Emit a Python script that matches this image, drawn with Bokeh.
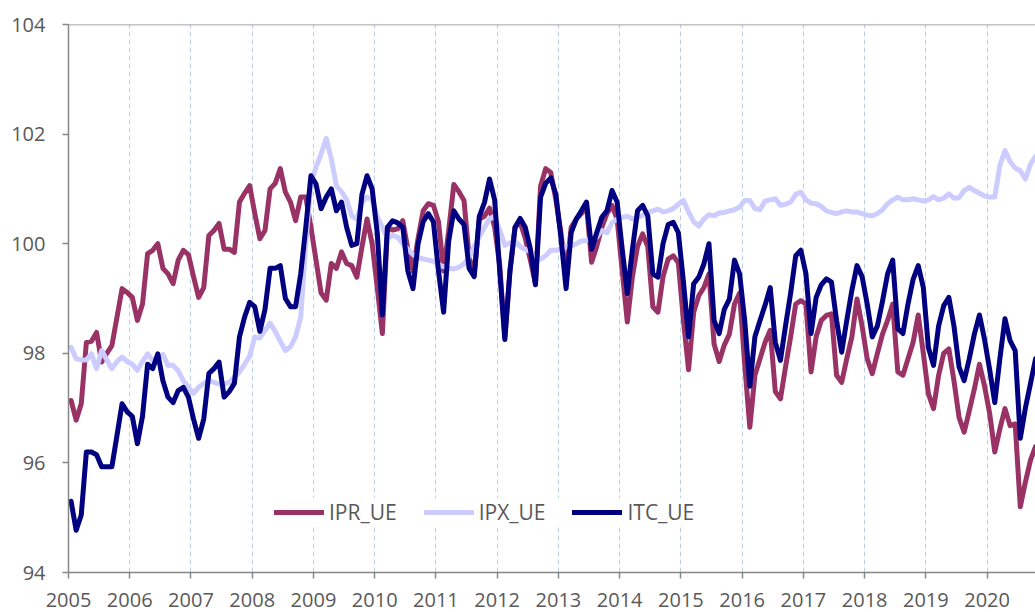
from bokeh.plotting import figure
from bokeh.models import FixedTicker, Legend, LegendItem, Span
from bokeh.embed import file_html
from bokeh.resources import INLINE

years = list(range(2005, 2021))
y_ticks = [94, 96, 98, 100, 102, 104]
start_year = 2005
series_names = ["IPR_UE", "IPX_UE", "ITC_UE"]

ipr_ue = [
    97.14, 96.78, 97.08, 98.20, 98.22, 98.38, 97.84, 98.00, 98.14, 98.66, 99.18, 99.11,
    99.02, 98.60, 98.90, 99.82, 99.88, 100.00, 99.55, 99.45, 99.27, 99.70, 99.88, 99.80,
    99.40, 99.02, 99.20, 100.15, 100.24, 100.37, 99.90, 99.90, 99.84, 100.76, 100.92, 101.06,
    100.55, 100.09, 100.24, 101.00, 101.10, 101.37, 100.94, 100.76, 100.42, 100.85, 100.85, 100.30,
    99.70, 99.10, 98.97, 99.64, 99.55, 99.85, 99.64, 99.60, 99.39, 99.94, 100.45, 100.00,
    99.20, 98.36, 100.30, 100.25, 100.27, 100.42, 99.90, 99.50, 100.10, 100.60, 100.73, 100.70,
    100.40, 99.50, 100.24, 101.08, 100.95, 100.79, 99.75, 99.45, 100.45, 100.50, 100.65, 100.30,
    99.60, 98.30, 99.50, 100.30, 100.39, 100.10, 99.70, 99.27, 101.05, 101.37, 101.30, 100.80,
    100.20, 99.40, 100.30, 100.45, 100.55, 100.70, 99.66, 99.95, 100.30, 100.55, 100.70, 100.45,
    99.50, 98.57, 99.40, 99.95, 100.18, 99.95, 98.85, 98.75, 99.40, 99.72, 99.78, 99.65,
    98.60, 97.70, 98.75, 99.05, 99.20, 99.45, 98.17, 97.85, 98.15, 98.35, 98.90, 99.10,
    97.80, 96.65, 97.60, 97.90, 98.20, 98.42, 97.30, 97.17, 97.75, 98.30, 98.90, 98.96,
    98.90, 97.66, 98.30, 98.60, 98.69, 98.72, 97.60, 97.47, 97.90, 98.30, 98.99, 98.50,
    97.90, 97.63, 98.00, 98.35, 98.60, 98.90, 97.66, 97.60, 97.90, 98.20, 98.70, 98.00,
    97.26, 96.99, 97.60, 98.00, 98.08, 97.50, 96.83, 96.56, 96.95, 97.35, 97.80, 97.40,
    96.90, 96.20, 96.62, 96.99, 96.68, 96.71, 95.20, 95.65, 96.05, 96.30,
]

ipx_ue = [
    98.11, 97.90, 97.88, 97.88, 97.99, 97.72, 98.05, 97.88, 97.72, 97.85, 97.93, 97.85,
    97.80, 97.69, 97.85, 97.99, 97.86, 97.92, 97.98, 97.78, 97.78, 97.68, 97.50, 97.38,
    97.27, 97.38, 97.45, 97.50, 97.47, 97.44, 97.44, 97.47, 97.56, 97.66, 97.80, 97.95,
    98.30, 98.28, 98.42, 98.55, 98.40, 98.22, 98.05, 98.12, 98.30, 98.66, 100.00, 101.10,
    101.40, 101.64, 101.92, 101.55, 101.05, 100.95, 100.80, 100.50, 100.45, 100.75, 100.85, 100.80,
    100.50, 100.30, 100.10, 100.15, 100.12, 100.00, 99.90, 99.80, 99.75, 99.72, 99.70, 99.68,
    99.62, 99.58, 99.55, 99.54, 99.57, 99.63, 99.75, 99.95, 100.12, 100.30, 100.45, 100.50,
    100.25, 99.97, 100.02, 100.05, 99.95, 99.90, 99.85, 99.72, 99.72, 99.78, 99.88, 99.88,
    99.90, 99.95, 99.96, 100.00, 100.05, 100.06, 100.10, 100.12, 100.24, 100.20, 100.38, 100.45,
    100.48, 100.50, 100.45, 100.48, 100.52, 100.57, 100.60, 100.63, 100.58, 100.60, 100.64, 100.72,
    100.79, 100.58, 100.40, 100.32, 100.45, 100.53, 100.51, 100.56, 100.57, 100.60, 100.62, 100.67,
    100.79, 100.79, 100.64, 100.62, 100.78, 100.80, 100.82, 100.70, 100.72, 100.76, 100.90, 100.94,
    100.80, 100.74, 100.73, 100.68, 100.60, 100.57, 100.55, 100.58, 100.60, 100.58, 100.58, 100.55,
    100.52, 100.51, 100.55, 100.62, 100.73, 100.80, 100.85, 100.80, 100.80, 100.82, 100.80, 100.78,
    100.80, 100.86, 100.80, 100.83, 100.91, 100.83, 100.84, 100.97, 101.03, 100.97, 100.92, 100.87,
    100.85, 100.85, 101.43, 101.70, 101.50, 101.38, 101.33, 101.18, 101.45, 101.60,
]

itc_ue = [
    95.30, 94.77, 95.05, 96.20, 96.20, 96.15, 95.93, 95.93, 95.93, 96.50, 97.08, 96.93,
    96.85, 96.35, 96.85, 97.80, 97.72, 97.99, 97.50, 97.20, 97.10, 97.32, 97.38, 97.20,
    96.80, 96.45, 96.80, 97.63, 97.72, 97.84, 97.20, 97.30, 97.45, 98.30, 98.66, 98.93,
    98.85, 98.40, 98.80, 99.55, 99.55, 99.60, 99.00, 98.85, 98.85, 99.45, 100.30, 101.24,
    101.09, 100.64, 100.85, 101.00, 100.60, 100.76, 100.30, 99.97, 100.00, 100.90, 101.24, 101.00,
    100.20, 98.70, 100.30, 100.42, 100.38, 100.30, 99.50, 99.18, 100.00, 100.40, 100.55, 100.40,
    99.50, 98.75, 100.05, 100.60, 100.45, 100.35, 99.55, 99.40, 100.50, 100.75, 101.18, 100.80,
    99.50, 98.25, 99.50, 100.30, 100.46, 100.30, 99.90, 99.25, 100.85, 101.10, 101.20, 100.90,
    100.10, 99.18, 100.20, 100.45, 100.60, 100.76, 99.90, 100.20, 100.48, 100.60, 100.97, 100.76,
    99.90, 99.09, 99.90, 100.60, 100.70, 100.51, 99.45, 99.39, 100.00, 100.35, 100.39, 100.20,
    99.30, 98.30, 99.27, 99.39, 99.63, 100.00, 98.60, 98.36, 98.80, 98.99, 99.70, 99.45,
    98.60, 97.40, 98.30, 98.60, 98.88, 99.20, 98.20, 97.87, 98.50, 99.10, 99.78, 99.88,
    99.45, 98.36, 99.02, 99.25, 99.36, 99.30, 98.60, 98.02, 98.60, 99.15, 99.60, 99.40,
    98.90, 98.30, 98.50, 98.95, 99.45, 99.70, 98.45, 98.36, 98.90, 99.35, 99.60, 99.20,
    98.10, 97.78, 98.50, 98.87, 99.02, 98.50, 97.75, 97.50, 97.90, 98.35, 98.70, 98.25,
    97.70, 97.10, 97.90, 98.63, 98.23, 98.05, 96.45, 97.00, 97.45, 97.90,
]

# monthly observations, plotted at mid-month on a year axis
dates = [start_year + (m + 0.5) / 12 for m in range(len(ipr_ue))]

FONT = "Open Sans"
TXT = "#595959"
AX = "#878787"

p = figure(
    width=1035, height=612,
    x_range=(2005, 2020.79), y_range=(94, 104),
    output_backend="svg", toolbar_location=None,
    min_border_left=68, min_border_right=0, min_border_top=24, min_border_bottom=40,
    background_fill_color="white", border_fill_color="white",
)
p.outline_line_color = None

p.xaxis.ticker = FixedTicker(ticks=years)
p.yaxis.ticker = FixedTicker(ticks=y_ticks)
for ax in (p.xaxis[0], p.yaxis[0]):
    ax.axis_line_color = AX
    ax.axis_line_width = 1.5
    ax.major_tick_line_color = AX
    ax.major_tick_line_width = 1.5
    ax.major_tick_in = 0
    ax.major_tick_out = 6
    ax.minor_tick_line_color = None
    ax.major_label_text_font = FONT
    ax.major_label_text_font_size = "20px"
    ax.major_label_text_color = TXT
p.yaxis.major_label_standoff = 17
p.xaxis.major_label_standoff = 14

p.xgrid.ticker = FixedTicker(ticks=years)
p.xgrid.grid_line_color = "#bccfe8"
p.xgrid.grid_line_dash = "5 3"
p.xgrid.grid_line_width = 1
p.ygrid.grid_line_color = None

p.add_layout(Span(location=104, dimension="width", line_color=AX, line_width=1.5))

LW = 5
r1 = p.line(dates, ipr_ue, line_color="#993366", line_width=LW, line_join="round", line_cap="round")
r2 = p.line(dates, ipx_ue, line_color="#ccccff", line_width=LW, line_join="round", line_cap="round")
r3 = p.line(dates, itc_ue, line_color="#000080", line_width=LW, line_join="round", line_cap="round")

legend = Legend(
    items=[LegendItem(label=series_names[0], renderers=[r1]),
           LegendItem(label=series_names[1], renderers=[r2]),
           LegendItem(label=series_names[2], renderers=[r3])],
    orientation="horizontal",
    location=(206, 46),
    label_text_font=FONT, label_text_font_size="21px", label_text_color=TXT,
    glyph_width=50, glyph_height=20, label_standoff=5, spacing=27,
    padding=11, margin=0,
    border_line_color=None, background_fill_color="white", background_fill_alpha=1.0,
)
p.add_layout(legend)

open("out.html", "w").write(file_html(p, INLINE))
